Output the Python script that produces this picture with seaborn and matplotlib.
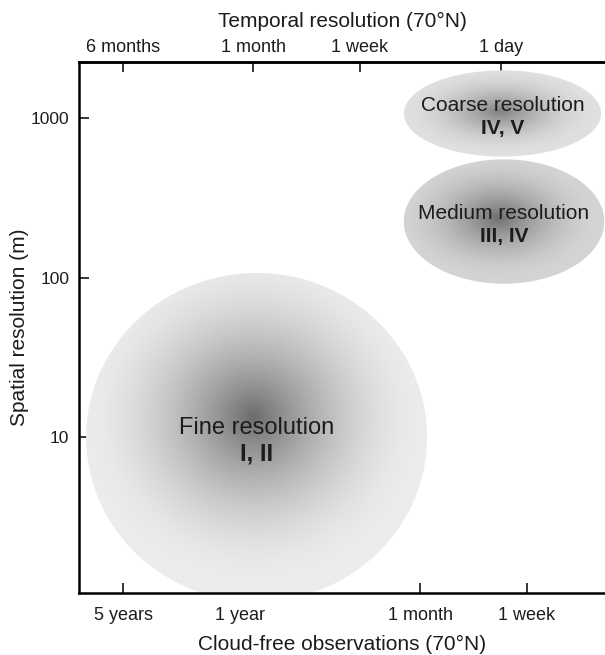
import numpy as np
import matplotlib
matplotlib.use("Agg")
import matplotlib.pyplot as plt
from matplotlib.patches import Ellipse
import seaborn as sns

# -------------------------
# Data
# -------------------------
# resolution classes and the sensor groups they hold
CLASS_NAMES = ["Fine resolution", "Medium resolution", "Coarse resolution"]
SENSOR_GROUPS = ["I, II", "III, IV", "IV, V"]
# cluster centre: days between cloud-free observations, spatial resolution (m)
CENTER_DAYS = [290, 9.6, 9.8]
CENTER_METERS = [10, 225, 1070]
# half extent of each cluster, in decades
HALF_DECADES_X = [1.02, 0.60, 0.59]
HALF_DECADES_Y = [1.03, 0.39, 0.27]

# bottom axis: interval between cloud-free observations (days)
BOTTOM_TICK_DAYS = [1825, 365, 30.44, 7]
BOTTOM_TICK_LABELS = ["5 years", "1 year", "1 month", "1 week"]
# top axis: revisit interval (days); roughly 1 in 10 looks is cloud free
TOP_TICK_DAYS = [182, 30.44, 7, 1]
TOP_TICK_LABELS = ["6 months", "1 month", "1 week", "1 day"]
CLOUD_FREE_DECADES = 1.0

Y_TICKS = [10, 100, 1000]
Y_TICK_LABELS = ["10", "100", "1000"]

# shading style per class: darkest grey, edge grey, focus offset, falloff, label size
SHADE_DARK = [108, 112, 128]
SHADE_LIGHT = [236, 212, 224]
SHADE_FOCUS = [(0.02, 0.12), (0.06, 0.06), (0.03, 0.05)]
SHADE_POWER = [1.7, 1.7, 1.8]
LABEL_SIZE = [17, 15, 15]

TEXT_COLOR = "#1c1c1c"


def shade_cluster(ax, cx, cy, rx, ry, dark, light, focus, power):
    """Radial grey gradient clipped to an ellipse (coords are log10 units)."""
    n = 400
    xs = np.linspace(cx - rx, cx + rx, n)
    ys = np.linspace(cy - ry, cy + ry, n)
    X, Y = np.meshgrid(xs, ys)
    fx, fy = focus
    r = np.hypot((X - (cx + fx * rx)) / rx, (Y - (cy + fy * ry)) / ry)
    r = np.clip(r, 0, 1)
    g = (light - (light - dark) * (1 - r) ** power) / 255.0
    rgb = np.dstack([g, g, g])
    im = ax.imshow(rgb, extent=(cx - rx, cx + rx, cy - ry, cy + ry),
                   origin="lower", aspect="auto", interpolation="bilinear",
                   zorder=1)
    clip = Ellipse((cx, cy), 2 * rx, 2 * ry, facecolor="none",
                   edgecolor="none", transform=ax.transData)
    ax.add_patch(clip)
    im.set_clip_path(clip)


def main():
    sns.set_theme(style="ticks")
    plt.rcParams["font.family"] = ["Liberation Sans", "DejaVu Sans"]
    plt.rcParams["text.color"] = TEXT_COLOR
    plt.rcParams["axes.labelcolor"] = TEXT_COLOR
    plt.rcParams["xtick.color"] = TEXT_COLOR
    plt.rcParams["ytick.color"] = TEXT_COLOR

    fig = plt.figure(figsize=(6.05, 6.55), dpi=100)
    ax = fig.add_axes([79 / 605, 1 - 593 / 655, 1 - 79 / 605, (593 - 62) / 655])

    log_x = np.log10(CENTER_DAYS)
    log_y = np.log10(CENTER_METERS)

    for i, name in enumerate(CLASS_NAMES):
        shade_cluster(ax, log_x[i], log_y[i], HALF_DECADES_X[i], HALF_DECADES_Y[i],
                      SHADE_DARK[i], SHADE_LIGHT[i], SHADE_FOCUS[i], SHADE_POWER[i])
        fs = LABEL_SIZE[i]
        ax.annotate(name, (log_x[i], log_y[i]), xytext=(0, 0.4 * fs),
                    textcoords="offset points", ha="center", va="center",
                    fontsize=fs, color=TEXT_COLOR, zorder=3)
        ax.annotate(SENSOR_GROUPS[i], (log_x[i], log_y[i]), xytext=(0, -0.7 * fs),
                    textcoords="offset points", ha="center", va="center",
                    fontsize=fs, fontweight="bold", color=TEXT_COLOR, zorder=3)

    # axes in log10 units, time runs right-to-left in days
    ax.set_xlim(3.525, 0.378)
    ax.set_ylim(0.024, 3.352)

    ax.set_xticks(np.log10(BOTTOM_TICK_DAYS))
    ax.set_xticklabels(BOTTOM_TICK_LABELS)
    ax.set_yticks(np.log10(Y_TICKS))
    ax.set_yticklabels(Y_TICK_LABELS)
    ax.tick_params(axis="both", direction="in", length=7, width=1.1,
                   labelsize=13, pad=10, color="black")
    ax.tick_params(axis="y", labelsize=12.5, pad=7)
    ax.set_xlabel("Cloud-free observations (70°N)", fontsize=15, labelpad=8)
    ax.set_ylabel("Spatial resolution (m)", fontsize=15, labelpad=1)

    top = ax.secondary_xaxis(
        "top",
        functions=(lambda v: v - CLOUD_FREE_DECADES, lambda v: v + CLOUD_FREE_DECADES),
    )
    top.set_xticks(np.log10(TOP_TICK_DAYS))
    top.set_xticklabels(TOP_TICK_LABELS)
    top.tick_params(direction="in", length=7, width=1.1, labelsize=13, pad=4,
                    color="black")
    top.set_xlabel("Temporal resolution (70°N)", fontsize=15, labelpad=9)

    sns.despine(ax=ax, top=False, right=True)
    for side in ("left", "bottom", "top"):
        ax.spines[side].set_linewidth(1.8)
        ax.spines[side].set_color("black")
    top.spines["top"].set_linewidth(1.8)
    top.spines["top"].set_color("black")

    fig.savefig("out.png", dpi=100, facecolor="white")
    plt.close(fig)


if __name__ == "__main__":
    main()
